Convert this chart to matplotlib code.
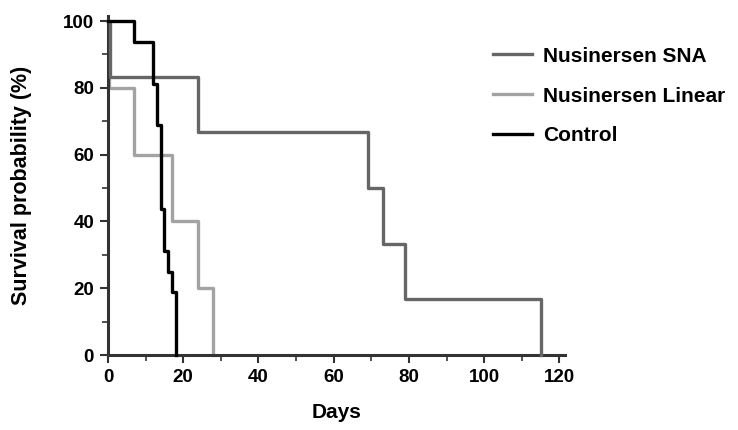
import numpy as np
import matplotlib.pyplot as plt

plt.rcParams['font.family'] = ['Liberation Sans', 'DejaVu Sans']
plt.rcParams['font.weight'] = 'bold'

# Kaplan-Meier steps (days, survival %)
sna_days = [0, 0.5, 24, 69, 73, 79, 115]
sna_surv = [100, 83.3, 66.7, 50, 33.3, 16.7, 0]

lin_days = [0, 0.2, 7, 17, 24, 28]
lin_surv = [100, 80, 60, 40, 20, 0]

ctl_days = [0, 7, 12, 13, 14, 15, 16, 17, 18]
ctl_surv = [100, 93.75, 81.25, 68.75, 43.75, 31.25, 25, 18.75, 0]

fig = plt.figure(figsize=(7.38, 4.30), dpi=100)
ax = fig.add_axes([108 / 738, 75 / 430, (565 - 108) / 738, (355 - 16) / 430])

ax.plot(sna_days, sna_surv, drawstyle='steps-post', color='#666666', lw=2.4,
        label='Nusinersen SNA', clip_on=False, zorder=3)
ax.plot(lin_days, lin_surv, drawstyle='steps-post', color='#a3a3a3', lw=2.4,
        label='Nusinersen Linear', clip_on=False, zorder=2)
ax.plot(ctl_days, ctl_surv, drawstyle='steps-post', color='black', lw=2.4,
        label='Control', clip_on=False, zorder=4)

ax.set_xlim(0, 121.5)
ax.set_ylim(0, 101.5)
ax.set_xticks(np.arange(0, 121, 20))
ax.set_xticks(np.arange(0, 121, 10), minor=True)
ax.set_yticks(np.arange(0, 101, 20))
ax.set_yticks(np.arange(0, 101, 10), minor=True)

for s in ['top', 'right']:
    ax.spines[s].set_visible(False)
for s in ['left', 'bottom']:
    ax.spines[s].set_linewidth(2.2)
    ax.spines[s].set_color('#333333')

ax.tick_params(which='major', length=6, width=1.5, color='#333333',
               labelsize=13.5, pad=4)
ax.tick_params(which='minor', length=4, width=1.2, color='#333333')

ax.set_xlabel('Days', fontsize=15, fontweight='bold', labelpad=12)
ax.set_ylabel('Survival probability (%)', fontsize=15.5, fontweight='bold',
              labelpad=22)

leg = fig.legend(loc='upper left', bbox_to_anchor=(474 / 738, 1 - 28 / 430),
                 frameon=False, fontsize=15, handlelength=1.9,
                 labelspacing=1.0, handletextpad=0.5)

fig.savefig('out.png', dpi=100)
